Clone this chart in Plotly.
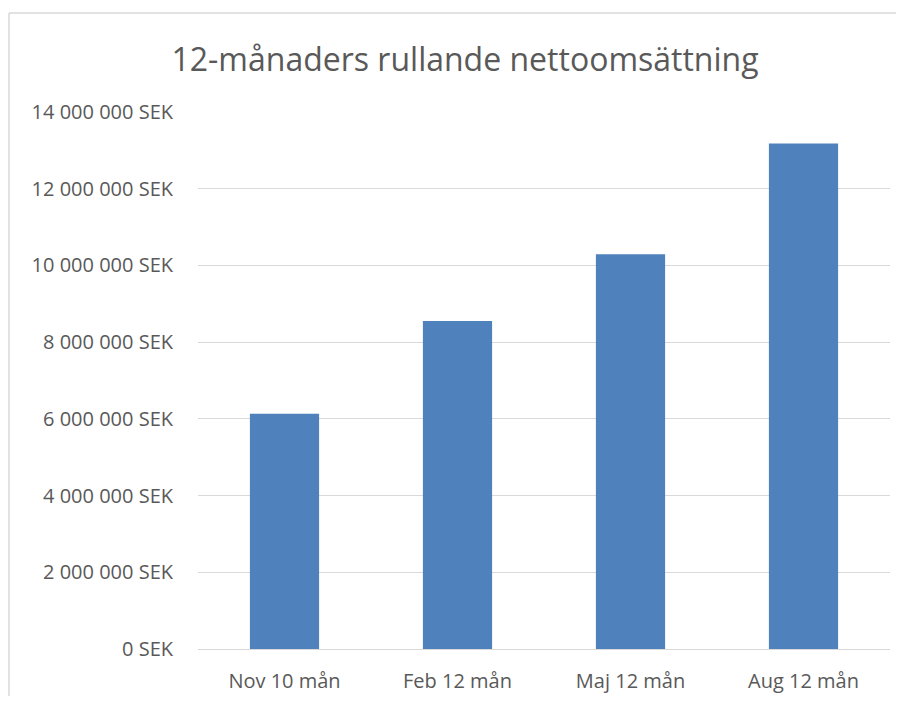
import plotly.graph_objects as go

categories = ["Nov 10 mån", "Feb 12 mån", "Maj 12 mån", "Aug 12 mån"]
values = [6130000, 8550000, 10290000, 13180000]
y_tickvals = [0, 2000000, 4000000, 6000000, 8000000, 10000000, 12000000, 14000000]
y_ticktext = ["0 SEK", "2 000 000 SEK", "4 000 000 SEK", "6 000 000 SEK",
              "8 000 000 SEK", "10 000 000 SEK", "12 000 000 SEK", "14 000 000 SEK"]
title = "12-månaders rullande nettoomsättning"

font_family = "Open Sans, Liberation Sans, sans-serif"
text_color = "#595959"

# page has an 8px body margin; figure is 888x688 placed at (8,8) so nothing overflows
W, H = 888, 688
L, R, T, B = 190, 6, 104, 47
pw, ph = W - L - R, H - T - B

fig = go.Figure(go.Bar(
    x=categories, y=values,
    marker=dict(color="#4F81BD", line=dict(width=0)),
))

frame_x = (1 - L) / pw
frame_top = ((H - B) - 5) / ph
frame_bottom = -(H - B) / ph
frame_right = (W - L) / pw

fig.update_layout(
    width=W, height=H,
    margin=dict(l=L, r=R, t=T, b=B, autoexpand=False),
    paper_bgcolor="white", plot_bgcolor="white",
    bargap=0.6,
    showlegend=False,
    font=dict(family=font_family, color=text_color, size=20),
    title=dict(text=title, x=457 / W, xanchor="center", xref="container",
               y=1 - 52 / H, yanchor="middle", yref="container",
               font=dict(size=32, color=text_color, family=font_family)),
    xaxis=dict(showgrid=False, showline=True, linecolor="#D9D9D9", linewidth=1,
               ticks="", tickfont=dict(size=20, color=text_color), zeroline=False,
               ticklabelstandoff=14),
    yaxis=dict(range=[0, 14000000], tickvals=y_tickvals, ticktext=y_ticktext,
               showgrid=True, gridcolor="#D9D9D9", gridwidth=1, zeroline=False,
               showline=False, ticks="", ticklabelstandoff=24,
               tickfont=dict(size=20, color=text_color)),
    shapes=[
        dict(type="line", xref="paper", yref="paper",
             x0=frame_x, x1=frame_x, y0=frame_bottom, y1=frame_top,
             line=dict(color="#D9D9D9", width=1.5), layer="below"),
        dict(type="line", xref="paper", yref="paper",
             x0=frame_x, x1=frame_right, y0=frame_top, y1=frame_top,
             line=dict(color="#D9D9D9", width=1.5), layer="below"),
    ],
)

fig.write_html("out.html")
